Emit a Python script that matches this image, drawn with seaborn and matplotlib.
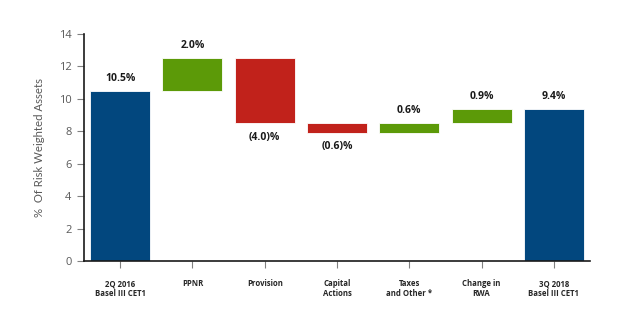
import matplotlib
matplotlib.use("Agg")
import matplotlib.pyplot as plt
import seaborn as sns
import numpy as np
import pandas as pd

categories = ["2Q 2016\nBasel III CET1", "PPNR", "Provision", "Capital\nActions",
              "Taxes\nand Other *", "Change in\nRWA", "3Q 2018\nBasel III CET1"]
changes = [10.5, 2.0, -4.0, -0.6, 0.6, 0.9, 9.4]
kinds = ["total", "step", "step", "step", "step", "step", "total"]
labels = ["10.5%", "2.0%", "(4.0)%", "(0.6)%", "0.6%", "0.9%", "9.4%"]
y_ticks = [0, 2, 4, 6, 8, 10, 12, 14]

BLUE = "#02477e"
GREEN = "#5c9a08"
RED = "#c1221b"

# waterfall bases: totals start at zero, steps start at the running level
bottoms = []
level = 0.0
for v, k in zip(changes, kinds):
    if k == "total":
        bottoms.append(0.0)
        level = v
    else:
        bottoms.append(level)
        level += v

colors = []
for v, k in zip(changes, kinds):
    if k == "total":
        colors.append(BLUE)
    else:
        colors.append(GREEN if v >= 0 else RED)

df = pd.DataFrame({"category": categories, "change": changes})

sns.set_style("white")
plt.rcParams["font.family"] = ["Open Sans", "DejaVu Sans"]

fig = plt.figure(figsize=(6.24, 3.24), dpi=100)
ax = fig.add_axes([0.1346, 0.1944, 0.8109, 0.7006])

sns.barplot(data=df, x="category", y="change", bottom=bottoms, width=0.83,
            color=BLUE, errorbar=None, ax=ax)
for patch, c in zip(ax.patches, colors):
    patch.set_facecolor(c)
    patch.set_edgecolor("#ffffff")
    patch.set_linewidth(0.6)

for i, (v, b, lab) in enumerate(zip(changes, bottoms, labels)):
    top = b + v
    dy = 9 if v >= 0 else -10
    ax.annotate(lab, (i, top), xytext=(0, dy), textcoords="offset points",
                ha="center", va="center", fontsize=7.5, fontweight="bold",
                color="#1a1a1a")

ax.set_xlim(-0.5, 6.5)
ax.set_ylim(0, 14)
ax.set_yticks(y_ticks)
ax.set_yticklabels([str(t) for t in y_ticks])
ax.set_xlabel("")
ax.set_ylabel("%  Of Risk Weighted Assets", fontsize=8.2, color="#595959",
              labelpad=10, family=["Lato", "DejaVu Sans"])

ax.tick_params(axis="y", left=True, length=5, width=0.8, color="#808080",
               labelsize=8, labelcolor="#595959", pad=4)
ax.tick_params(axis="x", bottom=True, length=5, width=0.8, color="#808080",
               labelsize=5.6, labelcolor="#262626", pad=8)
for t in ax.get_xticklabels():
    t.set_fontweight("bold")

sns.despine(ax=ax)
for side in ("left", "bottom"):
    ax.spines[side].set_color("#1a1a1a")
    ax.spines[side].set_linewidth(1.2)

fig.savefig("out.png", dpi=100)
